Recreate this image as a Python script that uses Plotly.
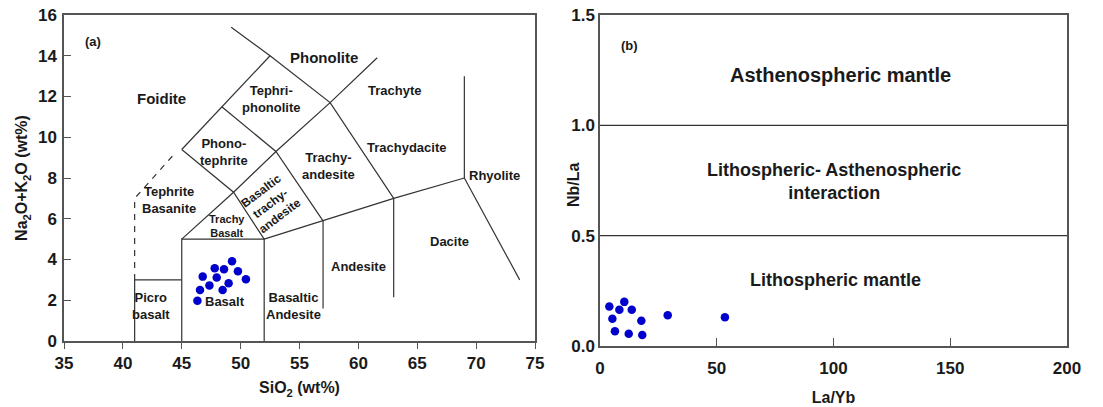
import plotly.graph_objects as go

# ---------------- data ----------------
# (a) TAS diagram samples
sio2 = [46.33, 46.55, 46.78, 47.35, 47.80, 47.97, 48.47, 48.59, 48.98, 49.27, 49.77, 50.45]
alk = [1.98, 2.50, 3.16, 2.73, 3.57, 3.12, 2.50, 3.52, 2.83, 3.91, 3.42, 3.03]

# (b) Nb/La vs La/Yb samples
la_yb = [4.0, 5.3, 6.4, 8.3, 10.4, 12.3, 13.6, 17.7, 18.1, 29.0, 53.5]
nb_la = [0.179, 0.123, 0.067, 0.164, 0.200, 0.055, 0.164, 0.114, 0.050, 0.139, 0.130]

# TAS field boundaries (SiO2, Na2O+K2O)
tas_solid = {
    "picro": ([41, 41, 45], [0, 3, 3]),
    "basalt_box": ([45, 45, 52, 52], [0, 5, 5, 0]),
    "alk_base": ([52, 57, 63, 69], [5, 5.9, 7, 8]),
    "v57": ([57, 57], [5.9, 1.6]),
    "v63": ([63, 63], [7, 2.15]),
    "rhy_v": ([69, 69], [8, 13.0]),
    "dacite_r": ([69, 73.7], [8, 3.0]),
    "lineC": ([45, 49.4, 53, 57.6, 61.6], [5, 7.3, 9.3, 11.7, 13.9]),
    "lineD": ([48.4, 53, 57], [11.5, 9.3, 5.9]),
    "lineE": ([45, 49.4, 52], [9.4, 7.3, 5]),
    "lineA": ([45, 48.4, 52.5], [9.4, 11.5, 14]),
    "lineB": ([49.2, 52.5, 57.6, 63], [15.4, 14, 11.7, 7]),
}
tas_dashed = {
    "tephrite": ([41, 41, 44.4], [3, 7.0, 9.2]),
}

# Nb/La field boundaries
nb_bounds = [1.0, 0.5]

# field labels
tas_labels = [
    ("Foidite", 43.3, 11.9, 15),
    ("Phonolite", 57.1, 13.9, 15),
    ("Tephri-<br>phonolite", 52.6, 11.9, 13),
    ("Trachyte", 63.1, 12.3, 13),
    ("Phono-<br>tephrite", 48.6, 9.3, 13),
    ("Trachydacite", 64.1, 9.5, 13),
    ("Trachy-<br>andesite", 57.5, 8.6, 13),
    ("Rhyolite", 71.6, 8.1, 13),
    ("Tephrite<br>Basanite", 43.9, 6.9, 13),
    ("Trachy<br>Basalt", 48.8, 5.65, 11),
    ("Picro<br>basalt", 42.4, 1.72, 13),
    ("Basalt", 48.7, 1.96, 13),
    ("Basaltic<br>Andesite", 54.5, 1.72, 13),
    ("Andesite", 60.0, 3.68, 13),
    ("Dacite", 67.7, 4.86, 13),
]
nb_labels = [
    ("Asthenospheric mantle", 103, 1.23, 20),
    ("Lithospheric- Asthenospheric<br>interaction", 100, 0.745, 18),
    ("Lithospheric mantle", 101, 0.30, 18),
]

# ---------------- figure ----------------
FONT = "Liberation Sans"
LINE = "#333333"
FRAME = "#555555"
DOT = "rgb(0,0,205)"
TXT = "#1a1a1a"

fig = go.Figure()

for name, (xs, ys) in tas_solid.items():
    fig.add_trace(go.Scatter(x=xs, y=ys, mode="lines", line=dict(color=LINE, width=1.2),
                             xaxis="x", yaxis="y", hoverinfo="skip", showlegend=False))
for name, (xs, ys) in tas_dashed.items():
    fig.add_trace(go.Scatter(x=xs, y=ys, mode="lines", line=dict(color=LINE, width=1.2, dash="6px,6px"),
                             xaxis="x", yaxis="y", hoverinfo="skip", showlegend=False))

fig.add_trace(go.Scatter(x=sio2, y=alk, mode="markers", marker=dict(color=DOT, size=8.5),
                         xaxis="x", yaxis="y", showlegend=False))

for v in nb_bounds:
    fig.add_trace(go.Scatter(x=[0, 200], y=[v, v], mode="lines", line=dict(color=LINE, width=1.2),
                             xaxis="x2", yaxis="y2", hoverinfo="skip", showlegend=False))

fig.add_trace(go.Scatter(x=la_yb, y=nb_la, mode="markers", marker=dict(color=DOT, size=8.5),
                         xaxis="x2", yaxis="y2", showlegend=False))

ann = []
for t, x, y, s in tas_labels:
    ann.append(dict(text=t, x=x, y=y, xref="x", yref="y", showarrow=False,
                    font=dict(family=FONT, size=s, color=TXT, weight="bold")))
ann.append(dict(text="Basaltic<br>trachy-<br>andesite", x=52.5, y=6.75, xref="x", yref="y",
                showarrow=False, textangle=-37,
                font=dict(family=FONT, size=12, color=TXT, weight="bold")))
ann.append(dict(text="(a)", x=37.5, y=14.7, xref="x", yref="y", showarrow=False,
                font=dict(family=FONT, size=13, color=TXT, weight="bold")))
for t, x, y, s in nb_labels:
    ann.append(dict(text=t, x=x, y=y, xref="x2", yref="y2", showarrow=False,
                    font=dict(family=FONT, size=s, color=TXT, weight="bold")))
ann.append(dict(text="(b)", x=12.8, y=1.36, xref="x2", yref="y2", showarrow=False,
                font=dict(family=FONT, size=13, color=TXT, weight="bold")))
# right y-axis title (placed close to tick labels as in the original)
ann.append(dict(text="Nb/La", x=573/1103, y=1 - 185/407, xref="paper", yref="paper",
                showarrow=False, textangle=-90,
                font=dict(family=FONT, size=16, color=TXT, weight="bold")))

tickfont = dict(family=FONT, size=17, color=TXT, weight="bold")
titlefont = dict(family=FONT, size=16, color=TXT, weight="bold")

common = dict(showline=True, linecolor=FRAME, linewidth=1.5, mirror=True, showgrid=False,
              zeroline=False, tickfont=tickfont, tickcolor=FRAME, tickwidth=1.2, automargin=False)

fig.update_layout(
    width=1103, height=407,
    margin=dict(l=0, r=0, t=0, b=0, autoexpand=False),
    paper_bgcolor="white", plot_bgcolor="white",
    annotations=ann,
    xaxis=dict(domain=[64/1103, 535/1103], range=[35, 75], tickvals=[35, 40, 45, 50, 55, 60, 65, 70, 75],
               ticks="outside", ticklen=6, anchor="y",
               title=dict(text="SiO<sub>2</sub> (wt%)", font=titlefont, standoff=10), **common),
    yaxis=dict(domain=[66/407, 392/407], range=[0, 16], tickvals=list(range(0, 17, 2)),
               ticks="inside", ticklen=7, anchor="x", ticklabelstandoff=2,
               title=dict(text="Na<sub>2</sub>O+K<sub>2</sub>O (wt%)", font=titlefont, standoff=6), **common),
    xaxis2=dict(domain=[600/1103, 1067/1103], range=[0, 200], tickvals=[0, 50, 100, 150, 200],
                ticks="inside", ticklen=8, anchor="y2", ticklabelstandoff=6,
                title=dict(text="La/Yb", font=titlefont, standoff=15), **common),
    yaxis2=dict(domain=[61/407, 392/407], range=[0, 1.5], tickvals=[0, 0.5, 1.0, 1.5],
                ticktext=["0.0", "0.5", "1.0", "1.5"], ticks="", anchor="x2", ticklabelstandoff=0,
                **common),
)

fig.write_html("out.html")
